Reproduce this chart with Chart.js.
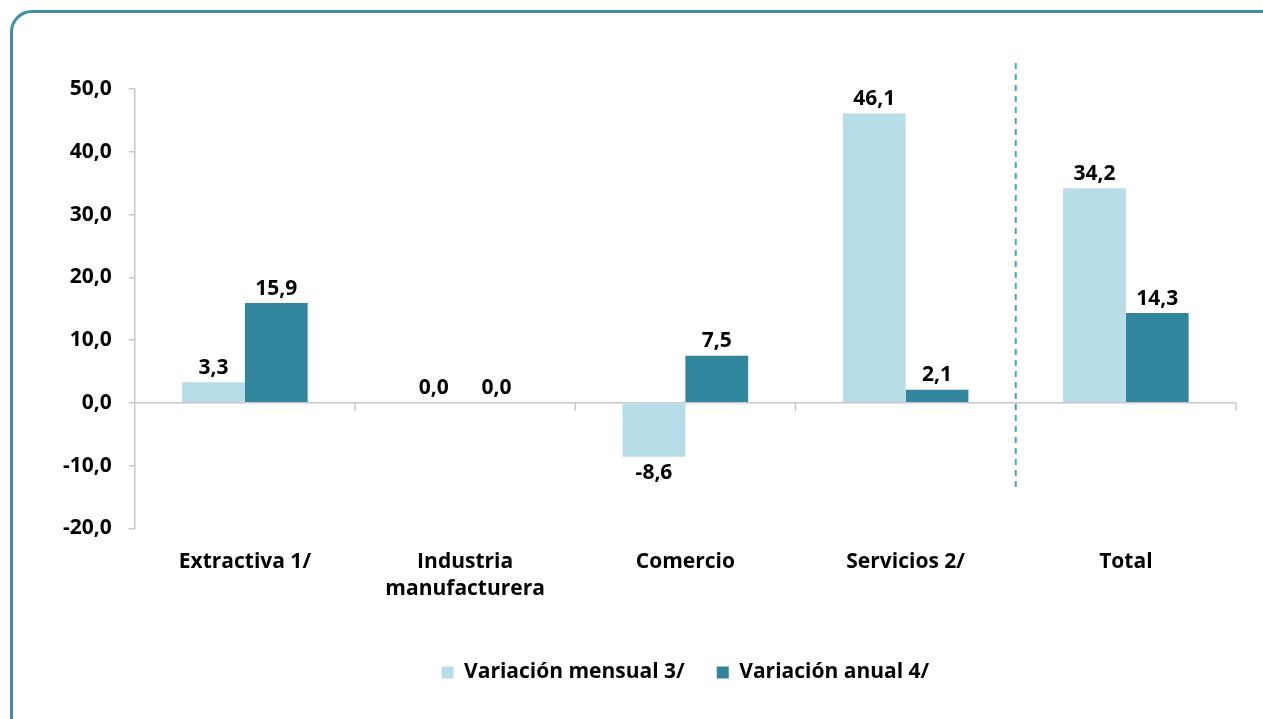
<!DOCTYPE html>
<html>
<head>
<meta charset="utf-8">
<script src="https://cdn.jsdelivr.net/npm/chart.js@4"></script>
<style>
    html, body { margin: 0; padding: 0; background: #fff; overflow: hidden; }
    #frame {
        position: absolute; left: 10px; top: 10px; width: 1300px; height: 760px;
        border: 3px solid #3e90a5; border-radius: 22px; box-sizing: border-box;
    }
    #wrap { position: absolute; left: 0; top: 0; width: 1263px; height: 719px; }
</style>
</head>
<body>
<div id="frame"></div>
<div id="wrap"><canvas id="barChart"></canvas></div>
<script>
const categories = ['Extractiva 1/', ['Industria', 'manufacturera'], 'Comercio', 'Servicios 2/', 'Total'];
const mensual = [3.3, 0.0, -8.6, 46.1, 34.2];
const anual = [15.9, 0.0, 7.5, 2.1, 14.3];
const yTicks = [50, 40, 30, 20, 10, 0, -10, -20];

const fontFamily = '"Open Sans", sans-serif';
const fmt = v => v.toFixed(1).replace('.', ',');

// value labels, zero line ticks and the dashed separator
const extras = {
    id: 'extras',
    afterDatasetsDraw(chart) {
        const ctx = chart.ctx;
        const x = chart.scales.x;
        const y = chart.scales.y;
        const zeroY = y.getPixelForValue(0);

        ctx.save();
        // tick marks on the zero line at category boundaries
        ctx.strokeStyle = '#c8c8c8';
        ctx.lineWidth = 1.5;
        for (let i = 1; i <= categories.length; i++) {
            const bx = (x.getPixelForValue(i - 1) + x.getPixelForValue(i)) / 2;
            const px = i === categories.length ? x.right : bx;
            ctx.beginPath();
            ctx.moveTo(px, zeroY);
            ctx.lineTo(px, zeroY + 8);
            ctx.stroke();
        }

        // dashed separator before Total
        const sx = (x.getPixelForValue(3) + x.getPixelForValue(4)) / 2;
        ctx.strokeStyle = '#4aa2b7';
        ctx.lineWidth = 2;
        ctx.setLineDash([6, 5]);
        ctx.beginPath();
        ctx.moveTo(sx, y.top - 26);
        ctx.lineTo(sx, y.getPixelForValue(-14));
        ctx.stroke();
        ctx.setLineDash([]);

        // value labels
        ctx.fillStyle = '#000';
        ctx.font = 'bold 21px ' + fontFamily;
        ctx.textAlign = 'center';
        chart.data.datasets.forEach((ds, di) => {
            chart.getDatasetMeta(di).data.forEach((bar, i) => {
                const v = ds.data[i];
                if (v < 0) {
                    ctx.textBaseline = 'top';
                    ctx.fillText(fmt(v), bar.x, bar.y + 6);
                } else {
                    ctx.textBaseline = 'bottom';
                    ctx.fillText(fmt(v), bar.x, bar.y - 4);
                }
            });
        });
        ctx.restore();
    }
};

const chartElem = document.getElementById('barChart').getContext('2d');

new Chart(chartElem, {
    type: 'bar',
    data: {
        labels: categories,
        datasets: [{
            label: 'Variación mensual 3/',
            data: mensual,
            backgroundColor: '#b7dee8',
            categoryPercentage: 0.57,
            barPercentage: 1.0,
        }, {
            label: 'Variación anual 4/',
            data: anual,
            backgroundColor: '#31859c',
            categoryPercentage: 0.57,
            barPercentage: 1.0,
        }],
    },
    options: {
        responsive: true,
        maintainAspectRatio: false,
        animation: false,
        layout: {
            padding: { left: 46, right: 27, top: 89, bottom: 26 },
        },
        scales: {
            x: {
                grid: { display: false },
                border: { display: false },
                afterFit: axis => { axis.height += 15; },
                ticks: {
                    color: '#000',
                    padding: 12,
                    maxRotation: 0,
                    font: { family: fontFamily, size: 21, weight: 'bold', lineHeight: 1.3 },
                },
            },
            y: {
                min: -20,
                max: 50,
                afterBuildTicks: axis => { axis.ticks = yTicks.map(v => ({ value: v })); },
                border: { display: true, color: '#c8c8c8', width: 1.5 },
                grid: {
                    color: c => (c.tick && c.tick.value === 0) ? '#c8c8c8' : 'rgba(0,0,0,0)',
                    lineWidth: 1.5,
                    tickColor: '#c8c8c8',
                    tickLength: 6,
                },
                ticks: {
                    color: '#000',
                    padding: 17,
                    font: { family: fontFamily, size: 21, weight: 'bold' },
                    callback: v => fmt(v),
                },
            },
        },
        plugins: {
            legend: {
                position: 'bottom',
                fullSize: false,
                labels: {
                    color: '#000',
                    boxWidth: 12,
                    boxHeight: 12,
                    padding: 32,
                    font: { family: fontFamily, size: 21, weight: 'bold' },
                },
            },
            tooltip: { enabled: false },
        },
    },
    plugins: [extras],
});
</script>
</body>
</html>
